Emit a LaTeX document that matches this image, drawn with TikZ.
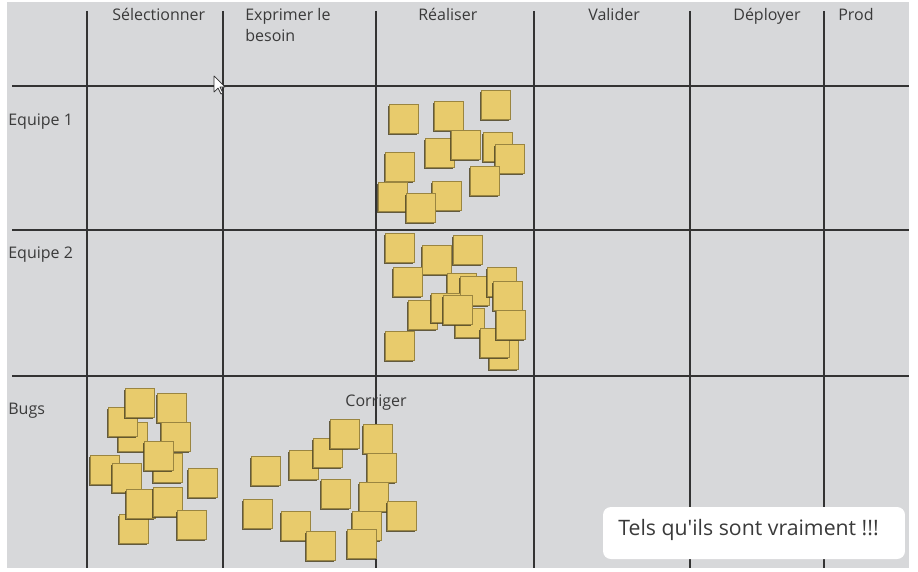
\documentclass[tikz,border=0pt]{standalone}
\usepackage{fontspec}
\setmainfont{Open Sans}
\usetikzlibrary{shadows}
\definecolor{board}{HTML}{D7D8DA}
\definecolor{gridgrey}{HTML}{333333}
\definecolor{inkgrey}{HTML}{3A3A3A}
\definecolor{noteyellow}{HTML}{E8CB6C}
\definecolor{noteedge}{HTML}{9A8540}
\definecolor{noteshadow}{HTML}{4E4424}

\begin{document}
\begin{tikzpicture}[x=0.02cm,y=-0.02cm,
  gridline/.style={line width=0.6pt,draw=gridgrey},
  boardtext/.style={font=\fontsize{9.1}{12}\selectfont,text=inkgrey,inner sep=0pt},
  postit/.style={fill=noteyellow,draw=noteedge,line width=0.4pt,
    drop shadow={shadow xshift=-0.7pt,shadow yshift=-0.9pt,opacity=0.85,fill=noteshadow}},
  quotebox/.style={fill=white,rounded corners=4.5pt,inner sep=0pt}]
\useasboundingbox (0,0) rectangle (918,571);
\fill[white] (0,0) rectangle (918,571);
\fill[board] (7,2) rectangle (909,568);
% grille
\foreach \gx in {87,223,376,534,690,824}
  \draw[gridline] (\gx,11) -- (\gx,568);
\foreach \gy in {86,230,376}
  \draw[gridline] (12,\gy) -- (909,\gy);
% en-tetes
\node[boardtext,anchor=base west] (sel) at (112,21) {Sélectionner};
\node[boardtext,anchor=base west] (expr) at (245,21) {Exprimer le};
\node[boardtext,anchor=base west] (besoin) at (245,42) {besoin};
\node[boardtext,anchor=base west] (real) at (418,21) {Réaliser};
\node[boardtext,anchor=base west] (val) at (588,21) {Valider};
\node[boardtext,anchor=base west] (depl) at (733,21) {Déployer};
\node[boardtext,anchor=base west] (prod) at (838,21) {Prod};
\node[boardtext,anchor=base west] (eq1) at (8,125) {Equipe 1};
\node[boardtext,anchor=base west] (eq2) at (8,258) {Equipe 2};
\node[boardtext,anchor=base west] (bugs) at (8,414) {Bugs};
\node[boardtext,anchor=base] (corr) at (376,406) {Corriger};
% post-it
\foreach \x/\y in {389/104,434/101,481/90,425/138,451/130,483/132,495/144,
    385/152,470/166,378/182,432/181,406/193}
  \draw[postit] (\x,\y) rectangle ++(29,29);
\foreach \x/\y in {385/233,422/245,453/235,393/267,455/308,447/273,460/276,
    487/267,493/281,408/300,431/293,443/295,489/340,480/328,496/310,385/331}
  \draw[postit] (\x,\y) rectangle ++(29,29);
\foreach \x/\y in {118/422,108/407,125/388,157/393,161/422,153/453,144/441,
    90/455,112/463,188/468,119/514,126/489,153/487,177/510}
  \draw[postit] (\x,\y) rectangle ++(29,29);
\foreach \x/\y in {289/450,313/438,330/419,363/424,367/453,251/456,321/479,
    359/482,243/499,387/501,281/511,352/511,306/531,347/529}
  \draw[postit] (\x,\y) rectangle ++(29,29);
% curseur
\draw[fill=white,draw=gridgrey,line width=0.4pt,line join=round]
  (214,76) -- ++(0,16) -- ++(4,-4) -- ++(3,6) -- ++(2,-1) -- ++(-3,-6) -- ++(5,0) -- cycle;
\node[quotebox,minimum width=6.04cm,minimum height=1.04cm] (quote) at (754,533) {};
\node[font=\fontsize{12.1}{14}\selectfont,text=inkgrey,inner sep=0pt,anchor=west]
  (quotetext) at (618,530) {Tels qu\textquotesingle ils sont vraiment !!!};
\end{tikzpicture}
\end{document}
